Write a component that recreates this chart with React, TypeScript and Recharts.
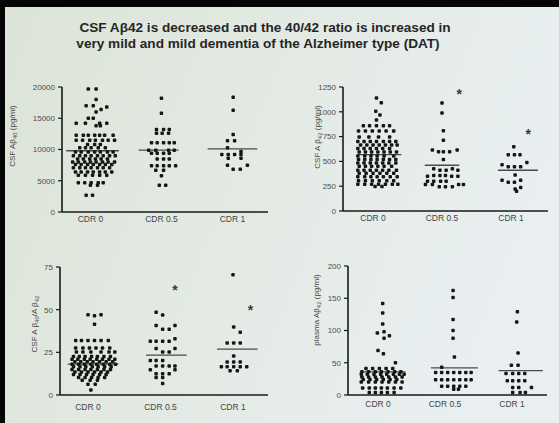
import React from "react";
import { ScatterChart, Scatter, XAxis, YAxis, ReferenceLine } from "recharts";

const W = 559;
const H = 423;
const FONT = "'Liberation Sans', Arial, Helvetica, sans-serif";

const categories = ["CDR 0", "CDR 0.5", "CDR 1"];

type Row = [number, number[]]; // [value, jitter offsets within the category column]

// ---------- Panel 1: CSF Abeta40 (pg/ml) ----------
const ab40Cdr0: Row[] = [
  [19700, [-0.03, 0.08]], [18000, [0.08]], [17000, [-0.06, 0.04]], [16800, [0.23]],
  [16400, [0.15]], [16000, [0.08]], [15000, [-0.03, 0.04]],
  [14200, [-0.2, -0.07, 0.13, 0.23]], [13800, [0.08, 0.14]],
  [12300, [-0.2, -0.1, -0.03, 0.06, 0.13, 0.2, 0.32]],
  [11500, [-0.2, -0.11, -0.01, 0.07, 0.17, 0.25, 0.34]],
  [10800, [-0.04, 0.06, 0.14]], [10300, [-0.15, -0.07, 0.01, 0.11, 0.21]],
  [9600, [-0.21, -0.13, -0.03, 0.06, 0.14, 0.24, 0.32]],
  [9000, [-0.24, -0.15, -0.07, 0.01, 0.1, 0.18, 0.27, 0.35]],
  [8500, [-0.18, -0.1, -0.01, 0.07, 0.15, 0.24]],
  [8000, [-0.25, -0.17, -0.08, 0, 0.08, 0.17, 0.25, 0.34]],
  [7600, [-0.21, -0.13, -0.04, 0.04, 0.13, 0.21, 0.3]],
  [7100, [-0.24, -0.15, -0.07, 0.01, 0.1, 0.18, 0.27]],
  [6400, [-0.21, -0.13, -0.04, 0.04, 0.13, 0.21, 0.3]],
  [5900, [-0.17, -0.07, 0.03, 0.13, 0.23]],
  [4700, [-0.17, -0.08, 0.01, 0.11, 0.18]], [4300, [0.0, 0.1]], [2700, [-0.06, 0.03]],
];
const ab40Cdr05: Row[] = [
  [18200, [0.0]], [15800, [0.0]], [13200, [-0.07, 0.03, 0.11]], [12600, [-0.07, 0.01, 0.1]],
  [11100, [-0.14, -0.06, 0.03, 0.11, 0.18]], [9900, [-0.18, -0.08, 0.1, 0.18]],
  [9400, [-0.14, -0.06, 0.03, 0.11]], [8500, [-0.06, 0.03, 0.11]],
  [7400, [-0.14, -0.06, 0.03, 0.11, 0.2]], [6700, [-0.08, 0.03]], [5800, [0.0]], [4300, [-0.03, 0.06]],
];
const ab40Cdr1: Row[] = [
  [18350, [0.01]], [16300, [0.01]], [12400, [0.01]], [11400, [-0.07, 0.03]], [10300, [-0.07]],
  [9700, [0.12]], [9200, [-0.15, -0.06, 0.03, 0.12]], [8600, [-0.06, 0.12]],
  [7500, [-0.07, 0.21]], [6850, [0.01, 0.11]],
];
const ab40Medians = [9800, 9900, 10100];
const ab40Ticks = [0, 5000, 10000, 15000, 20000];

// ---------- Panel 2: CSF Abeta42 (pg/ml) ----------
const ab42Cdr0: Row[] = [
  [1140, [0.05]], [1090, [0.12]], [1005, [0.04]], [968, [0.1]], [917, [0.05]],
  [860, [-0.14, -0.05, 0.05, 0.15, 0.24]],
  [806, [-0.21, -0.11, -0.01, 0.09, 0.19, 0.3]],
  [745, [-0.2, -0.06, 0.08, 0.24]],
  [700, [-0.22, -0.13, -0.04, 0.05, 0.15, 0.24, 0.33]],
  [665, [-0.18, -0.09, 0.0, 0.09, 0.18, 0.27, 0.35]],
  [630, [-0.22, -0.13, -0.04, 0.05, 0.14, 0.24]],
  [595, [-0.2, -0.11, -0.02, 0.07, 0.16, 0.25, 0.34]],
  [555, [-0.22, -0.12, -0.03, 0.06, 0.16, 0.3]],
  [520, [-0.21, -0.12, -0.03, 0.06, 0.15, 0.24, 0.33]],
  [485, [-0.22, -0.13, -0.04, 0.05, 0.14, 0.23, 0.33]],
  [450, [-0.2, -0.11, -0.02, 0.07, 0.16, 0.27]],
  [412, [-0.22, -0.13, -0.04, 0.05, 0.14, 0.23, 0.34]],
  [380, [-0.2, -0.1, 0.0, 0.1, 0.2, 0.3]],
  [345, [-0.22, -0.12, -0.03, 0.06, 0.15, 0.25, 0.35]],
  [305, [-0.21, -0.11, -0.01, 0.09, 0.2, 0.3]],
  [270, [-0.22, -0.12, -0.02, 0.08, 0.18, 0.28, 0.36]],
  [248, [0.03, 0.13]],
];
const ab42Cdr05: Row[] = [
  [1089, [0.0]], [988, [0.0]], [810, [0.02]], [712, [0.02]], [615, [-0.14, 0.22]],
  [598, [-0.05, 0.02, 0.11]], [519, [0.02]], [425, [-0.12, 0.15]], [410, [-0.03, 0.06, 0.23]],
  [357, [-0.12, -0.03, 0.05]], [350, [-0.21, 0.14, 0.23]], [300, [-0.21, -0.12, -0.02, 0.06]],
  [268, [-0.24, -0.14, 0.24, 0.31]], [245, [-0.04, 0.05, 0.15]],
];
const ab42Cdr1: Row[] = [
  [648, [0.04]], [567, [-0.04, 0.05, 0.13]], [490, [0.23]], [465, [-0.13]],
  [445, [-0.04, 0.05, 0.14]], [364, [0.06]], [310, [-0.13, 0.14]], [290, [-0.04, 0.05]],
  [236, [0.14]], [222, [0.06]], [200, [0.08]],
];
const ab42Medians = [569, 461, 411];
const ab42Ticks = [0, 250, 500, 750, 1000, 1250];
const ab42Stars: [number, number, number][] = [[1, 0.25, 1177], [2, 0.25, 772]];

// ---------- Panel 3: CSF Abeta40 / Abeta42 ----------
const ratioCdr0: Row[] = [
  [47, [0.0, 0.18]], [46.5, [0.09]], [41.5, [0.09]],
  [32, [-0.17, -0.09, 0.0, 0.09, 0.18, 0.28]],
  [27.5, [-0.17, -0.07, 0.02, 0.11, 0.2, 0.3]],
  [25.2, [-0.16, -0.07, 0.04, 0.18, 0.29, 0.37]],
  [22.5, [-0.2, -0.12, -0.04, 0.05, 0.13, 0.22, 0.31]],
  [21, [-0.22, -0.14, -0.05, 0.03, 0.12, 0.2, 0.29, 0.37]],
  [19.5, [-0.18, -0.1, -0.01, 0.07, 0.16, 0.25, 0.34]],
  [18, [-0.22, -0.13, -0.05, 0.04, 0.12, 0.21, 0.3, 0.38]],
  [16.5, [-0.2, -0.11, -0.03, 0.06, 0.14, 0.23, 0.32]],
  [15, [-0.22, -0.13, -0.04, 0.04, 0.13, 0.22, 0.31]],
  [13.5, [-0.18, -0.09, 0.0, 0.09, 0.18, 0.27]],
  [12, [-0.2, -0.11, -0.02, 0.07, 0.16, 0.25]],
  [10.3, [-0.13, -0.04, 0.05, 0.14, 0.23]],
  [8.7, [-0.08, 0.03, 0.13]], [6.3, [0.0, 0.1]], [3, [0.04]],
];
const ratioCdr05: Row[] = [
  [48.5, [-0.06]], [46.9, [0.03]], [40.7, [-0.06, 0.2]], [38.5, [0.03, 0.12]], [33, [0.2]],
  [31.5, [-0.14, -0.06, 0.03, 0.12]], [27.2, [-0.06, 0.2]], [25.2, [0.03, 0.12]],
  [20.2, [-0.14, -0.06, 0.03]], [17, [-0.06, 0.03, 0.12, 0.2]], [14.8, [-0.14, 0.2]],
  [12.5, [-0.06, 0.03, 0.12]], [10.2, [-0.06, 0.03]], [6.8, [0.03]],
];
const ratioCdr1: Row[] = [
  [70.5, [0.0]], [39.8, [0.01]], [36.8, [0.1]], [30.5, [-0.08, 0.01, 0.1]], [22.8, [0.01]],
  [19.3, [-0.08, 0.01, 0.1]], [16.5, [-0.16, -0.08, 0.01, 0.1, 0.19]], [14.2, [-0.04, 0.06]],
];
const ratioMedians = [18.1, 23.4, 26.9];
const ratioTicks = [0, 25, 50, 75];
const ratioStars: [number, number, number][] = [[1, 0.2, 61.3], [2, 0.24, 49.6]];

// ---------- Panel 4: plasma Abeta42 (pg/ml) ----------
const plasmaCdr0: Row[] = [
  [142, [0.07]], [127, [0.07]], [110, [0.07]], [96, [-0.01]], [98, [0.09]], [92, [0.17]],
  [88, [0.09]], [69, [0.0]], [64, [0.08]], [50, [0.26]],
  [41, [-0.18, -0.08, 0.02, 0.12, 0.22]],
  [36, [-0.24, -0.14, -0.04, 0.05, 0.15, 0.25, 0.34]],
  [32, [-0.25, -0.16, -0.06, 0.04, 0.13, 0.23, 0.32, 0.39]],
  [28, [-0.24, -0.14, -0.04, 0.06, 0.16, 0.26, 0.36]],
  [24, [-0.22, -0.12, -0.02, 0.08, 0.18, 0.28]],
  [20, [-0.25, -0.14, -0.04, 0.06, 0.16, 0.26, 0.36]],
  [11, [-0.23, -0.13, -0.04, 0.05, 0.14, 0.24, 0.34]],
  [4, [-0.13, -0.04, 0.05, 0.14, 0.24]],
];
const plasmaCdr05: Row[] = [
  [162, [0.12]], [151, [0.12]], [117, [0.12]], [100, [0.12]], [88, [0.12]], [59, [0.14]],
  [43, [-0.05]],
  [35, [-0.14, -0.05, 0.04, 0.13, 0.22, 0.31, 0.39]],
  [23.5, [-0.14, -0.05, 0.04, 0.13, 0.22, 0.31, 0.39]],
  [13.5, [-0.05, 0.04, 0.13, 0.22, 0.31]],
  [9, [0.13, 0.2]],
];
const plasmaCdr1: Row[] = [
  [129, [0.08]], [113, [0.07]], [65, [0.09]], [46, [-0.01, 0.09]],
  [33.5, [-0.09, 0.01, 0.1, 0.19]], [22, [-0.07, 0.01, 0.1, 0.19]],
  [11.5, [0.01, 0.1, 0.29]], [4, [0.01, 0.12, 0.2]],
];
const plasmaMedians = [35.7, 42, 37.7];
const plasmaTicks = [0, 50, 100, 150, 200];

// ---------- layout ----------
type PanelCfg = {
  groups: Row[][];
  medians: number[];
  medianSpan: [number, number][];
  stars: [number, number, number][];
  yTicks: number[];
  x0: number; x1: number; y0: number; y1: number;
  xDomain: [number, number];
  xLabelGap: number;
};

const panels: PanelCfg[] = [
  {
    groups: [ab40Cdr0, ab40Cdr05, ab40Cdr1], medians: ab40Medians,
    medianSpan: [[0.03, 0.37], [-0.04, 0.28], [0.0, 0.35]], stars: [], yTicks: ab40Ticks,
    x0: 62, x1: 268, y0: 87, y1: 212, xDomain: [-0.4, 2.5], xLabelGap: 3.5,
  },
  {
    groups: [ab42Cdr0, ab42Cdr05, ab42Cdr1], medians: ab42Medians,
    medianSpan: [[0.09, 0.32], [0.0, 0.25], [0.1, 0.29]], stars: ab42Stars, yTicks: ab42Ticks,
    x0: 343, x1: 548, y0: 87, y1: 211, xDomain: [-0.435, 2.536], xLabelGap: 4,
  },
  {
    groups: [ratioCdr0, ratioCdr05, ratioCdr1], medians: ratioMedians,
    medianSpan: [[0.07, 0.35], [0.08, 0.28], [0.06, 0.28]], stars: ratioStars, yTicks: ratioTicks,
    x0: 60, x1: 268, y0: 267, y1: 395, xDomain: [-0.386, 2.483], xLabelGap: 8.5,
  },
  {
    groups: [plasmaCdr0, plasmaCdr05, plasmaCdr1], medians: plasmaMedians,
    medianSpan: [[0.07, 0.34], [0.14, 0.35], [0.13, 0.33]], stars: [], yTicks: plasmaTicks,
    x0: 348, x1: 547, y0: 266, y1: 395, xDomain: [-0.448, 2.522], xLabelGap: 6,
  },
];

const Dot = (p: any) => (
  <rect x={p.cx - 1.75} y={p.cy - 1.75} width={3.5} height={3.5} rx={1} fill="#161616" />
);
const Star = (p: any) => (
  <text x={p.cx} y={p.cy + 5} textAnchor="middle" fontSize={14} fontWeight="bold" fill="#3a3a3a" fontFamily={FONT}>*</text>
);

function Panel({ cfg }: { cfg: PanelCfg }) {
  const pts = cfg.groups.flatMap((rows, gi) =>
    rows.flatMap(([v, offs]) => offs.map((o) => ({ x: gi + o, y: v })))
  );
  const stars = cfg.stars.map(([g, o, v]) => ({ x: g + o, y: v }));
  const yMax = cfg.yTicks[cfg.yTicks.length - 1];
  const xh = 20;
  return (
    <div style={{ position: "absolute", left: 0, top: 0 }}>
      <ScatterChart
        width={W}
        height={H}
        margin={{ top: cfg.y0, right: W - cfg.x1, bottom: H - cfg.y1 - xh, left: 0 }}
      >
        <XAxis
          type="number" dataKey="x" domain={cfg.xDomain} allowDataOverflow ticks={[0, 1, 2]}
          interval={0} tickFormatter={(v: number) => categories[v]} height={xh}
          tickLine={false} tickSize={0} tickMargin={cfg.xLabelGap}
          axisLine={{ stroke: "#1a1a1a", strokeWidth: 1.6 }}
          tick={{ fontSize: 8.5, fill: "#444444", fontFamily: FONT }}
        />
        <YAxis
          type="number" dataKey="y" domain={[0, yMax]} allowDataOverflow ticks={cfg.yTicks}
          interval={0} width={cfg.x0} tickSize={4} tickMargin={3}
          tickLine={{ stroke: "#1a1a1a", strokeWidth: 1.2 }}
          axisLine={{ stroke: "#1a1a1a", strokeWidth: 1.6 }}
          tick={{ fontSize: 8, fill: "#4c4c4c", fontFamily: FONT }}
        />
        <Scatter data={pts} shape={Dot} isAnimationActive={false} />
        {cfg.medians.map((m, i) => (
          <ReferenceLine
            key={i}
            segment={[
              { x: i + cfg.medianSpan[i][0] - cfg.medianSpan[i][1], y: m },
              { x: i + cfg.medianSpan[i][0] + cfg.medianSpan[i][1], y: m },
            ]}
            stroke="#4a4a4a" strokeWidth={1.3}
          />
        ))}
        {stars.length > 0 && <Scatter data={stars} shape={Star} isAnimationActive={false} />}
      </ScatterChart>
    </div>
  );
}

function YLabel({ x, y, pre, sub, mid, sub2, post }: any) {
  return (
    <text transform={`translate(${x},${y}) rotate(-90)`} textAnchor="middle" fontSize={8} fill="#474747" fontFamily={FONT}>
      {pre}
      <tspan fontSize={6} dy={2}>{sub}</tspan>
      <tspan dy={-2}>{mid}</tspan>
      {sub2 ? <tspan fontSize={6} dy={2}>{sub2}</tspan> : null}
      {post ? <tspan dy={sub2 ? -2 : 0}>{post}</tspan> : null}
    </text>
  );
}

export default function App() {
  return (
    <div style={{ position: "absolute", left: 0, top: 0, width: W, height: H, overflow: "hidden" }}>
      <svg width={W} height={H} style={{ position: "absolute", left: 0, top: 0 }}>
        <defs>
          <linearGradient id="bg" x1="0" y1="0" x2="1" y2="0.3">
            <stop offset="0" stopColor="#dce3d7" />
            <stop offset="0.5" stopColor="#e3eae3" />
            <stop offset="1" stopColor="#e9eff1" />
          </linearGradient>
        </defs>
        <rect x={0} y={0} width={W} height={H} fill="url(#bg)" />
        <rect x={0} y={0} width={W} height={7} fill="#050505" />
        <rect x={0} y={0} width={5} height={H} fill="#050505" />
        <text x={265} y={32} textAnchor="middle" fontSize={13.6} fontWeight="bold" fill="#262626" fontFamily={FONT}>
          CSF Aβ42 is decreased and the 40/42 ratio is increased in
        </text>
        <text x={258} y={47.5} textAnchor="middle" fontSize={13.6} fontWeight="bold" fill="#262626" fontFamily={FONT}>
          very mild and mild dementia of the Alzheimer type (DAT)
        </text>
        <YLabel x={15} y={136} pre="CSF Aβ" sub="40" mid=" (pg/ml)" />
        <YLabel x={320} y={137} pre="CSF A β" sub="42" mid=" (pg/ml)" />
        <YLabel x={37} y={324} pre="CSF A β" sub="40" mid="/A β" sub2="42" />
        <YLabel x={319} y={310} pre="plasma Aβ" sub="42" mid=" (pg/ml)" />
      </svg>
      {panels.map((p, i) => (
        <Panel key={i} cfg={p} />
      ))}
    </div>
  );
}
